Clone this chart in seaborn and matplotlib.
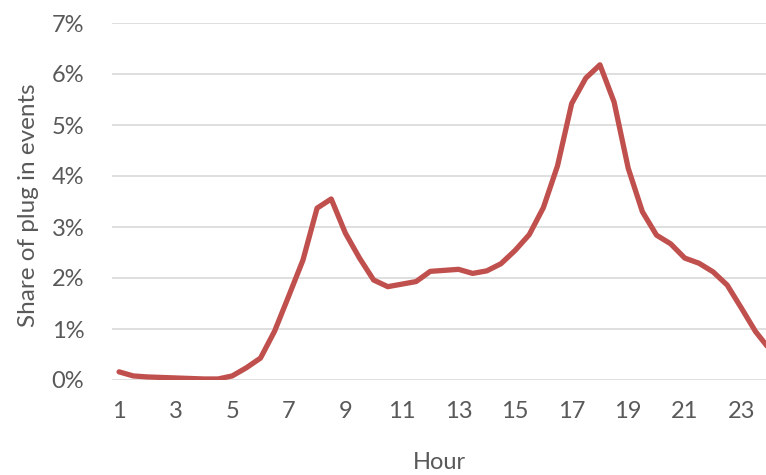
import numpy as np
import pandas as pd
import seaborn as sns
import matplotlib.pyplot as plt
from matplotlib.ticker import FuncFormatter

# half-hourly share of plug-in events (%)
hours = [1, 1.5, 2, 2.5, 3, 3.5, 4, 4.5, 5, 5.5, 6, 6.5, 7, 7.5, 8, 8.5,
         9, 9.5, 10, 10.5, 11, 11.5, 12, 12.5, 13, 13.5, 14, 14.5, 15, 15.5,
         16, 16.5, 17, 17.5, 18, 18.5, 19, 19.5, 20, 20.5, 21, 21.5, 22, 22.5,
         23, 23.5, 24]
share = [0.16, 0.08, 0.06, 0.05, 0.04, 0.03, 0.02, 0.02, 0.08, 0.24, 0.43,
         0.96, 1.65, 2.35, 3.37, 3.55, 2.88, 2.39, 1.96, 1.83, 1.88, 1.93,
         2.13, 2.15, 2.17, 2.09, 2.14, 2.28, 2.54, 2.85, 3.38, 4.2, 5.42,
         5.92, 6.18, 5.45, 4.15, 3.3, 2.84, 2.67, 2.39, 2.29, 2.12, 1.86,
         1.41, 0.95, 0.6]
x_ticks = [1, 3, 5, 7, 9, 11, 13, 15, 17, 19, 21, 23]
y_ticks = [0, 1, 2, 3, 4, 5, 6, 7]

df = pd.DataFrame({"hour": hours, "share": share})

sns.set_theme(style="white")
plt.rcParams["font.family"] = ["Lato", "DejaVu Sans"]

fig = plt.figure(figsize=(7.66, 4.75), dpi=100)
ax = fig.add_axes([112 / 766, 95 / 475, 654 / 766, 357 / 475])

sns.lineplot(data=df, x="hour", y="share", color="#c0504d", linewidth=3.8,
             ax=ax)

ax.set_xlim(0.75, 23.87)
ax.set_ylim(0, 7)
ax.set_xticks(x_ticks)
ax.set_yticks(y_ticks)
ax.yaxis.set_major_formatter(FuncFormatter(lambda v, p: f"{v:.0f}%"))

ax.grid(axis="y", color="#d9d9d9", linewidth=1.2)
ax.set_axisbelow(True)
for s in ax.spines.values():
    s.set_visible(False)

grey = "#595959"
ax.tick_params(axis="both", length=0, labelsize=17, labelcolor=grey)
ax.tick_params(axis="y", pad=20)
ax.tick_params(axis="x", pad=15)

ax.set_xlabel("Hour", fontsize=17, color=grey, labelpad=22)
ax.set_ylabel("Share of plug in events", fontsize=17.5, color=grey)
ax.yaxis.set_label_coords(-0.112, 0.49)

fig.savefig("out.png", dpi=100)
